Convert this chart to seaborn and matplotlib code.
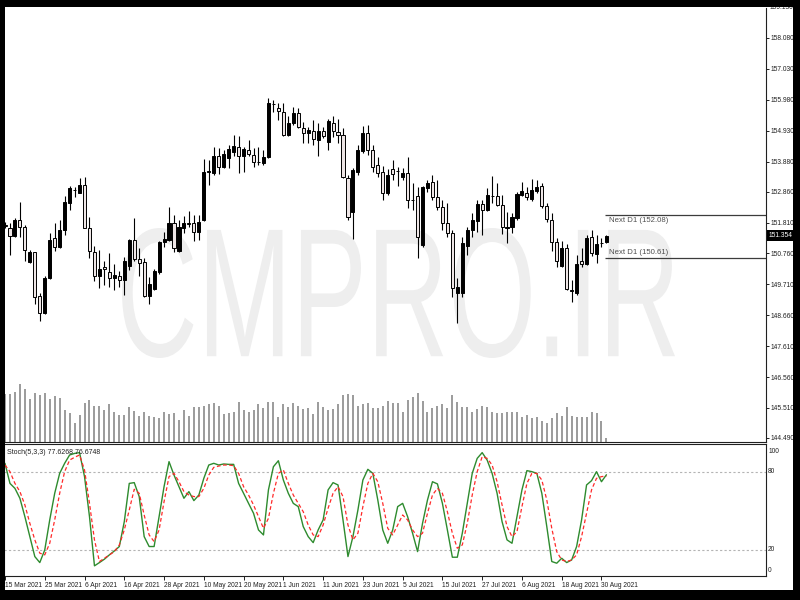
import numpy as np
import pandas as pd
import matplotlib
matplotlib.use('Agg')
import matplotlib.pyplot as plt
import seaborn as sns
from matplotlib.patches import Rectangle, PathPatch
from matplotlib.textpath import TextPath
from matplotlib.font_manager import FontProperties
from matplotlib.transforms import Affine2D

# daily bars, 15 Mar 2021 .. 31 Aug 2021
dates = pd.bdate_range('2021-03-15', '2021-08-31')

open_ = [151.74, 151.62, 151.35, 151.90, 151.66, 150.47, 150.81, 149.31, 148.74, 149.93,
         151.28, 150.98, 151.56, 152.47, 152.93, 152.81, 153.09, 151.62, 150.81, 149.99,
         150.30, 150.13, 149.93, 149.99, 149.86, 150.33, 151.22, 150.57, 150.47, 149.31,
         149.55, 150.13, 151.15, 151.22, 151.79, 150.84, 151.62, 151.78, 151.79, 151.49,
         151.90, 153.54, 153.49, 154.07, 153.70, 154.00, 154.21, 154.38, 154.07, 154.27,
         154.10, 153.88, 153.83, 154.04, 155.85, 155.70, 155.57, 154.78, 155.19, 155.53,
         155.02, 154.85, 154.92, 154.61, 154.92, 154.55, 155.19, 154.89, 154.78, 153.32,
         152.17, 153.53, 154.24, 154.85, 154.27, 153.76, 153.53, 152.81, 153.63, 153.57,
         153.36, 153.49, 152.59, 152.71, 151.05, 152.98, 153.19, 152.68, 152.34, 151.79,
         151.45, 149.41, 149.41, 151.01, 151.56, 151.86, 152.44, 152.24, 152.72, 152.71,
         152.41, 151.62, 151.66, 151.96, 152.75, 152.81, 152.61, 152.88, 153.05, 152.37,
         151.90, 151.15, 150.33, 150.94, 149.50, 149.41, 150.50, 150.40, 151.32, 150.74,
         151.12, 151.15]
high = [151.83, 151.79, 151.96, 152.51, 151.73, 150.88, 150.81, 149.42, 149.99, 151.45,
        151.79, 151.90, 152.71, 153.05, 153.02, 153.32, 153.36, 152.00, 151.01, 150.88,
        150.50, 150.77, 150.40, 150.16, 150.64, 151.25, 151.96, 150.94, 150.61, 149.96,
        150.23, 151.18, 151.49, 152.34, 152.07, 151.90, 152.03, 152.20, 152.07, 152.07,
        153.97, 153.93, 154.38, 154.34, 154.27, 154.44, 154.78, 154.75, 154.38, 154.61,
        154.34, 154.38, 154.27, 156.04, 155.97, 155.87, 155.87, 155.43, 155.74, 155.70,
        155.23, 155.06, 155.29, 155.19, 155.06, 155.33, 155.43, 155.33, 155.02, 153.42,
        153.66, 154.44, 155.09, 155.12, 154.44, 154.04, 153.73, 153.63, 153.93, 153.70,
        153.66, 154.04, 153.15, 153.02, 153.05, 153.25, 153.42, 153.25, 152.58, 152.47,
        151.56, 149.93, 151.32, 151.66, 152.13, 152.58, 152.58, 152.98, 153.39, 153.15,
        152.75, 152.17, 152.13, 152.85, 153.19, 153.02, 153.29, 153.25, 153.15, 152.47,
        152.13, 151.28, 151.18, 151.08, 149.86, 150.71, 150.94, 151.39, 151.56, 151.39,
        151.28, 151.37]
low = [151.62, 150.71, 151.32, 151.32, 150.50, 150.44, 149.04, 148.46, 148.70, 149.89,
       150.84, 150.94, 151.39, 152.24, 152.68, 152.81, 151.62, 150.61, 149.82, 149.59,
       149.69, 149.62, 149.52, 149.62, 149.35, 150.20, 150.50, 149.99, 149.28, 149.04,
       149.52, 150.06, 150.98, 151.18, 150.81, 150.81, 151.45, 151.66, 151.18, 151.22,
       151.86, 153.09, 153.42, 153.46, 153.66, 153.66, 154.07, 153.49, 153.53, 154.07,
       153.70, 153.76, 153.76, 154.00, 155.57, 155.29, 154.75, 154.75, 155.12, 155.02,
       154.51, 154.51, 154.44, 154.07, 154.68, 154.27, 154.72, 154.51, 153.32, 151.90,
       151.25, 153.42, 154.17, 154.10, 153.53, 153.36, 152.58, 152.75, 153.25, 153.05,
       153.25, 152.30, 152.24, 150.61, 150.98, 152.85, 152.58, 152.24, 151.56, 151.32,
       149.28, 148.40, 149.28, 150.71, 151.32, 151.49, 151.39, 152.20, 152.47, 152.37,
       151.42, 151.11, 151.45, 151.90, 152.71, 152.58, 152.54, 152.81, 152.30, 151.83,
       150.84, 150.30, 150.30, 149.52, 149.11, 149.35, 150.30, 150.37, 150.67, 150.44,
       150.98, 151.11]
close = [151.70, 151.35, 151.90, 151.66, 150.88, 150.81, 149.28, 148.74, 149.93, 151.22,
         150.98, 151.56, 152.51, 152.98, 152.91, 153.09, 151.62, 150.84, 149.99, 150.23,
         150.23, 149.93, 150.03, 149.86, 150.50, 151.22, 150.57, 150.44, 149.31, 149.72,
         150.16, 151.15, 151.25, 151.79, 150.94, 151.66, 151.79, 151.76, 151.49, 151.83,
         153.53, 153.56, 154.07, 153.70, 154.14, 154.31, 154.41, 154.07, 154.31, 154.14,
         153.87, 153.86, 154.04, 155.87, 155.83, 155.60, 154.78, 155.19, 155.53, 155.06,
         154.85, 154.95, 154.65, 154.92, 154.75, 155.26, 154.92, 154.78, 153.36, 152.00,
         153.59, 154.27, 154.85, 154.27, 153.70, 153.49, 152.81, 153.42, 153.46, 153.55,
         153.49, 152.58, 152.56, 151.32, 153.02, 153.15, 152.68, 152.34, 151.79, 151.45,
         149.59, 149.62, 151.11, 151.56, 151.90, 152.44, 152.24, 152.75, 152.70, 152.41,
         151.66, 151.66, 152.00, 152.78, 152.88, 152.68, 152.92, 153.02, 152.37, 151.93,
         151.15, 150.50, 150.94, 149.55, 149.48, 150.40, 150.40, 151.28, 150.77, 151.08,
         151.10, 151.35]
# tick volume, thousands
volume = [48.0, 47.7, 50.0, 57.7, 52.7, 42.7, 49.0, 46.7, 49.0, 42.7,
          45.7, 43.4, 31.7, 29.0, 19.0, 26.7, 39.0, 41.7, 35.7, 35.7,
          31.7, 37.4, 30.0, 26.7, 26.7, 34.4, 30.7, 25.7, 30.0, 25.7,
          25.0, 24.0, 30.0, 27.4, 28.4, 21.7, 31.7, 26.0, 34.4, 34.4,
          36.0, 37.4, 38.4, 36.0, 27.7, 28.4, 30.0, 40.0, 31.7, 29.4,
          31.7, 37.4, 33.4, 39.4, 39.4, 25.0, 37.4, 35.0, 38.4, 35.7,
          32.7, 33.4, 27.7, 39.4, 34.4, 31.7, 32.7, 37.4, 46.7, 47.7,
          46.7, 35.7, 37.4, 39.0, 33.4, 33.4, 35.7, 40.7, 38.4, 38.4,
          30.0, 41.7, 44.4, 49.0, 40.7, 30.0, 33.4, 35.7, 37.7, 33.4,
          46.7, 40.0, 34.4, 34.4, 30.0, 32.4, 36.0, 34.4, 30.0, 29.0,
          28.4, 30.0, 30.0, 30.0, 25.0, 26.7, 24.0, 24.4, 21.0, 19.0,
          24.0, 28.4, 26.0, 34.4, 25.7, 24.4, 24.4, 25.0, 30.0, 29.0,
          20.7, 3.4]
stoch_k = [86.4, 71.0, 67.2, 59.6, 45.5, 30.2, 14.9, 10.3, 20.0, 43.0,
           63.4, 78.7, 86.4, 92.8, 94.0, 94.6, 76.2, 45.5, 7.8, 10.3,
           12.9, 16.2, 19.2, 22.6, 41.7, 71.0, 71.6, 60.9, 30.2, 22.6,
           22.6, 45.5, 68.5, 87.7, 77.4, 68.5, 59.6, 64.7, 57.8, 62.1,
           74.9, 85.1, 86.4, 85.1, 85.9, 85.6, 85.6, 71.0, 63.4, 55.7,
           48.1, 35.3, 31.5, 66.0, 83.8, 88.4, 73.6, 63.4, 55.7, 53.2,
           37.9, 30.2, 25.6, 35.3, 43.0, 66.0, 71.6, 69.8, 43.0, 14.9,
           30.2, 50.6, 73.6, 81.8, 78.7, 58.3, 35.3, 25.1, 35.3, 53.2,
           55.7, 45.5, 32.8, 18.7, 40.4, 58.3, 72.3, 70.6, 55.7, 35.3,
           14.4, 14.4, 32.8, 55.7, 78.7, 90.2, 94.6, 88.9, 78.7, 63.4,
           41.7, 27.7, 25.1, 45.5, 66.0, 80.8, 80.0, 78.7, 63.4, 37.9,
           11.1, 9.8, 13.6, 10.3, 12.3, 22.6, 43.0, 69.8, 73.1, 80.0,
           72.3, 77.6268]
stoch_d = [85.1, 80.0, 71.0, 64.7, 54.5, 40.4, 27.7, 17.5, 16.2, 25.1,
           43.0, 63.4, 80.0, 88.9, 91.0, 92.8, 81.3, 55.7, 27.7, 11.1,
           13.6, 16.2, 18.7, 23.8, 35.3, 50.6, 66.5, 63.4, 46.8, 31.5,
           26.4, 35.3, 57.0, 76.2, 78.7, 72.3, 64.7, 62.1, 60.9, 60.9,
           67.2, 77.4, 83.3, 84.3, 85.1, 85.1, 84.6, 78.7, 68.5, 62.1,
           54.5, 45.5, 36.6, 44.2, 63.4, 78.7, 81.3, 71.0, 62.1, 55.7,
           49.3, 39.1, 31.5, 30.2, 39.1, 51.9, 63.4, 68.5, 60.9, 39.1,
           27.7, 32.8, 53.2, 71.0, 78.7, 72.3, 55.7, 36.6, 31.5, 39.1,
           46.8, 43.0, 35.3, 30.2, 32.8, 48.1, 62.1, 67.2, 63.4, 49.3,
           32.8, 21.3, 23.8, 40.4, 62.1, 80.0, 91.5, 90.2, 85.1, 72.3,
           54.5, 37.9, 30.2, 34.0, 53.2, 71.0, 78.7, 78.7, 73.6, 58.3,
           36.6, 18.7, 12.3, 11.1, 12.3, 16.2, 30.2, 48.1, 66.0, 74.9,
           76.2, 76.6748]

price_ticks = [159.130, 158.080, 157.030, 155.980, 154.930, 153.880, 152.860,
               151.810, 150.760, 149.710, 148.660, 147.610, 146.560, 145.510, 144.490]
stoch_levels = [80, 20]
next_d1 = [152.08, 150.61]
last_price = 151.354

W, H = 800, 600


def main():
    sns.set_theme(style='white')
    plt.rcParams['font.family'] = ['Liberation Sans', 'DejaVu Sans']
    fs = 4.8  # small terminal font; keeps the date labels apart

    fig = plt.figure(figsize=(8, 6), dpi=100, facecolor='black')
    # white chart area inside the black terminal frame
    fig.add_artist(Rectangle((4.5 / W, 10 / H), 788.5 / W, 583 / H, transform=fig.transFigure,
                             facecolor='white', edgecolor='none', zorder=-3))

    # watermark, stretched to the box it fills in the screenshot
    tp = TextPath((0, 0), 'CMPRO.IR', size=100,
                  prop=FontProperties(family=['Liberation Sans', 'DejaVu Sans']))
    ext = tp.get_extents()
    tr = (Affine2D().translate(-ext.x0, -ext.y0)
          .scale(553 / ext.width, 130 / ext.height)
          .translate(122, 242).scale(1 / W, 1 / H))
    fig.add_artist(PathPatch(tr.transform_path(tp), transform=fig.transFigure,
                             facecolor='#eeeeee', edgecolor='none', zorder=-2))

    ax = fig.add_axes([4 / W, 158.5 / H, 762 / W, 433.5 / H], facecolor='none')
    ax2 = fig.add_axes([4 / W, 24 / H, 762 / W, 132.5 / H], facecolor='none')

    idx = np.arange(len(close))
    o, h, l, c = (np.array(a) for a in (open_, high, low, close))
    up = c > o
    xlim = (-0.2, 153.1)

    # candles
    ax.vlines(idx, l, h, color='black', linewidth=0.8, zorder=2)
    ax.bar(idx, np.maximum(np.abs(c - o), 0.012), bottom=np.minimum(o, c), width=0.62,
           color=np.where(up, 'black', '#eee6e6'), edgecolor='black', linewidth=0.7, zorder=3)
    ax.set_xlim(*xlim)
    ax.set_ylim(144.369, 159.099)

    # volumes sit on the bottom of the price window
    vol_ax = ax.twinx()
    vol_ax.vlines(idx, 0, volume, color='#808080', linewidth=1.1)
    vol_ax.set_ylim(0, 433.5)
    vol_ax.set_xlim(*xlim)
    vol_ax.set_axis_off()

    ax.yaxis.tick_right()
    shown = [t for t in price_ticks if t < 159.099]
    ax.set_yticks(shown)
    ax.set_yticklabels([f'{t:.3f}' for t in shown])
    ax.tick_params(axis='y', right=True, left=False, length=2.5, width=0.7, pad=1.0,
                   labelsize=fs, colors='#202020')
    ax.annotate(f'{price_ticks[0]:.3f}', xy=(1, price_ticks[0]), xycoords=('axes fraction', 'data'),
                xytext=(2.8, 0), textcoords='offset points', ha='left', va='center',
                fontsize=fs, color='#202020', annotation_clip=False)
    ax.set_xticks([])
    for s in ['top', 'left']:
        ax.spines[s].set_visible(False)
    for s in ['right', 'bottom']:
        ax.spines[s].set_color('#202020')
        ax.spines[s].set_linewidth(0.8)

    # next day levels
    for v, off, va in [(next_d1[0], -1.5, 'top'), (next_d1[1], 1.5, 'bottom')]:
        ax.hlines(v, 120.7, xlim[1], color='#3c3c3c', linewidth=0.9)
        ax.annotate(f'Next D1 ({v:.2f})', xy=(121.6, v), xytext=(0, off), textcoords='offset points',
                    ha='left', va=va, fontsize=5.6, color='#505050')

    # current price marker
    ax.annotate(f'{last_price:.3f}', xy=(1, last_price), xycoords=('axes fraction', 'data'),
                xytext=(1.8, 0), textcoords='offset points', ha='left', va='center', fontsize=fs,
                color='white', annotation_clip=False,
                bbox=dict(boxstyle='square,pad=0.3', fc='black', ec='none'))

    # stochastic window
    sns.lineplot(x=idx, y=stoch_k, ax=ax2, color='#2e8b2e', linewidth=1.0)
    sns.lineplot(x=idx, y=stoch_d, ax=ax2, color='#ff2a2a', linewidth=0.9, linestyle=(0, (3, 2)))
    for lv in stoch_levels:
        ax2.axhline(lv, color='#b4b4b4', linewidth=0.8, linestyle=(0, (2, 2)), zorder=0)
    ax2.set_xlim(*xlim)
    ax2.set_ylim(0, 101.6)
    ax2.set_yticks([])
    for lab, pos in [('100', 95.5), ('80', 80), ('20', 20), ('0', 4.2)]:
        ax2.annotate(lab, xy=(1, pos), xycoords=('axes fraction', 'data'), xytext=(1.5, 0),
                     textcoords='offset points', ha='left', va='center', fontsize=fs,
                     color='#202020', annotation_clip=False)
    ax2.text(3 / 762, 0.93, f'Stoch(5,3,3) {stoch_k[-1]:.4f} {stoch_d[-1]:.4f}',
             transform=ax2.transAxes, ha='left', va='center', fontsize=5.0, color='#202020')

    ax2.set_xticks(idx[::8])
    ax2.set_xticklabels([f'{d.day} {d:%b %Y}' for d in dates[::8]], ha='left')
    ax2.tick_params(axis='x', bottom=True, length=3, width=0.7, pad=1.5, labelsize=fs,
                    colors='#202020')
    ax2.set_xlabel('')
    ax2.set_ylabel('')
    for s in ax2.spines.values():
        s.set_color('#202020')
        s.set_linewidth(0.8)

    # black terminal frame on top of everything
    for x0, y0, w, hh in [(0, 593, 800, 7), (0, 0, 4.5, 600), (793, 0, 7, 600), (0, 0, 800, 10)]:
        fig.add_artist(Rectangle((x0 / W, y0 / H), w / W, hh / H, transform=fig.transFigure,
                                 facecolor='black', edgecolor='none', zorder=10))

    fig.savefig('out.png', dpi=100, facecolor='black')


if __name__ == '__main__':
    main()
